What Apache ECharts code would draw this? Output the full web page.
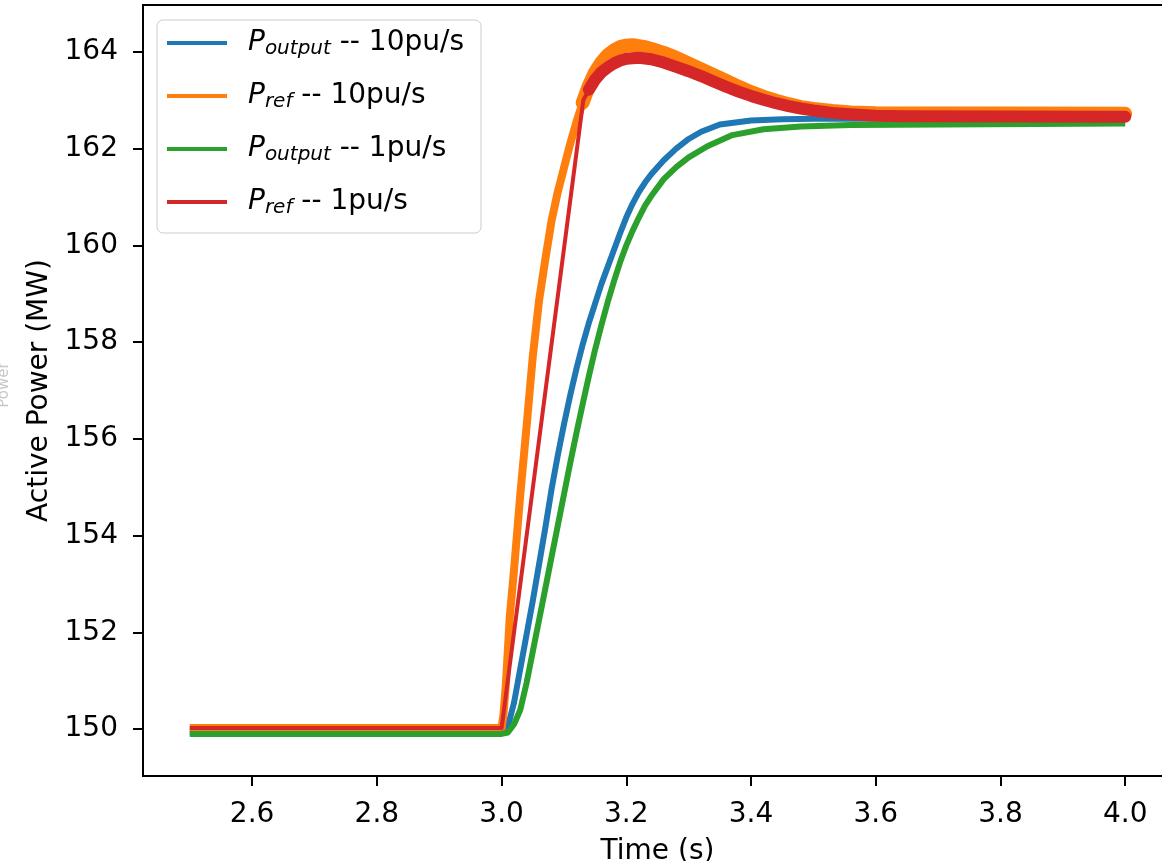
<!DOCTYPE html>
<html>
<head>
<meta charset="utf-8">
<script src="https://cdn.jsdelivr.net/npm/echarts@6.0.0/dist/echarts.min.js"></script>
<style>
  html, body { margin: 0; padding: 0; background: #fff; }
  #chart { width: 1162px; height: 861px; }
</style>
</head>
<body>
<div id="chart"></div>
<script>
// Active power step response: output and reference for two ramp rates.
const seriesNames = ['P_output -- 10pu/s', 'P_ref -- 10pu/s', 'P_output -- 1pu/s', 'P_ref -- 1pu/s'];
const seriesColors = ['#1f77b4', '#ff7f0e', '#2ca02c', '#d62728'];

const xTicks = [2.6, 2.8, 3.0, 3.2, 3.4, 3.6, 3.8, 4.0];
const yTicks = [150, 152, 154, 156, 158, 160, 162, 164];

// P_output -- 10pu/s
const timeOut10 = [2.5, 3.0, 3.01, 3.02, 3.03, 3.04, 3.05, 3.06, 3.07, 3.08, 3.09, 3.10, 3.11, 3.12, 3.13, 3.14, 3.15, 3.16, 3.17, 3.18, 3.19, 3.20, 3.21, 3.22, 3.23, 3.24, 3.26, 3.28, 3.30, 3.32, 3.35, 3.40, 3.45, 3.50, 4.0];
const powerOut10 = [149.93, 149.93, 150.05, 150.55, 151.25, 151.95, 152.65, 153.4, 154.15, 154.95, 155.65, 156.3, 156.9, 157.45, 157.95, 158.4, 158.8, 159.2, 159.55, 159.9, 160.25, 160.58, 160.86, 161.1, 161.3, 161.47, 161.76, 162.0, 162.2, 162.35, 162.5, 162.58, 162.61, 162.62, 162.62];

// P_ref -- 10pu/s
const timeRef10 = [2.5, 3.0, 3.003, 3.007, 3.013, 3.02, 3.03, 3.04, 3.05, 3.06, 3.07, 3.08, 3.09, 3.10, 3.11, 3.12, 3.13, 3.14, 3.15, 3.16, 3.17, 3.18, 3.19, 3.20, 3.21, 3.22, 3.23, 3.24, 3.26, 3.28, 3.30, 3.32, 3.34, 3.36, 3.38, 3.40, 3.42, 3.44, 3.46, 3.48, 3.50, 3.53, 3.56, 3.60, 4.0];
const powerRef10 = [150.02, 150.02, 150.3, 150.95, 152.3, 153.3, 154.85, 156.25, 157.7, 158.85, 159.7, 160.5, 161.1, 161.6, 162.1, 162.55, 162.95, 163.3, 163.58, 163.78, 163.93, 164.03, 164.1, 164.13, 164.14, 164.12, 164.1, 164.06, 163.98, 163.88, 163.76, 163.64, 163.52, 163.4, 163.28, 163.17, 163.07, 162.99, 162.92, 162.86, 162.82, 162.78, 162.75, 162.73, 162.72];

// P_output -- 1pu/s
const timeOut1 = [2.5, 3.0, 3.01, 3.02, 3.03, 3.04, 3.05, 3.06, 3.07, 3.08, 3.09, 3.10, 3.11, 3.12, 3.13, 3.14, 3.15, 3.16, 3.17, 3.18, 3.19, 3.20, 3.21, 3.22, 3.23, 3.24, 3.26, 3.28, 3.30, 3.33, 3.37, 3.42, 3.48, 3.56, 4.0];
const powerOut1 = [149.9, 149.9, 149.93, 150.1, 150.4, 150.95, 151.6, 152.25, 152.9, 153.55, 154.2, 154.85, 155.5, 156.12, 156.72, 157.3, 157.85, 158.35, 158.82, 159.25, 159.65, 160.0, 160.3, 160.57, 160.82, 161.02, 161.37, 161.62, 161.82, 162.05, 162.28, 162.4, 162.46, 162.49, 162.52];

// P_ref -- 1pu/s (linear ramp, then tracking)
const timeRef1 = [2.5, 3.0, 3.131, 3.14, 3.15, 3.16, 3.17, 3.18, 3.19, 3.20, 3.22, 3.24, 3.26, 3.28, 3.30, 3.32, 3.34, 3.36, 3.38, 3.40, 3.42, 3.44, 3.46, 3.48, 3.50, 3.53, 3.56, 3.60, 3.65, 4.0];
const powerRef1 = [150.02, 150.02, 163.0, 163.22, 163.43, 163.58, 163.68, 163.76, 163.82, 163.86, 163.88, 163.85, 163.78, 163.69, 163.6, 163.5, 163.39, 163.28, 163.18, 163.09, 163.01, 162.94, 162.88, 162.83, 162.79, 162.74, 162.71, 162.68, 162.67, 162.66];

const FONT = 'DejaVu Sans';
const FS = 28;

function pairs(t, p, fromTime) {
  const out = [];
  for (let i = 0; i < t.length; i++) {
    if (fromTime === undefined || t[i] >= fromTime) out.push([t[i], p[i]]);
  }
  return out;
}

// cap: 'butt' for the base traces, 'round' for the wide noise-band overlays
function lineSeries(idx, data, width, cap) {
  return {
    type: 'line',
    name: seriesNames[idx],
    data: data,
    showSymbol: false,
    symbol: 'none',
    smooth: false,
    color: seriesColors[idx],
    lineStyle: { color: seriesColors[idx], width: width, cap: cap || 'butt', join: 'round' },
    emphasis: { disabled: true },
    animation: false
  };
}

function legendLabel(name) {
  const m = name.match(/^P_(\w+)(.*)$/);
  return '{p|P}{s|' + m[1] + '}{t|' + m[2] + '}';
}

const chart = echarts.init(document.getElementById('chart'), null, { renderer: 'canvas' });

chart.setOption({
  backgroundColor: '#fff',
  animation: false,
  grid: {
    left: 143, top: 5, width: 1029, height: 771,
    show: true, borderColor: '#000', borderWidth: 2, backgroundColor: '#fff',
    containLabel: false, outerBoundsMode: 'none'
  },
  xAxis: {
    type: 'value', min: 2.425, max: 4.075,
    axisLine: { show: true, onZero: false, lineStyle: { color: '#000', width: 2 } },
    axisTick: { show: true, customValues: xTicks, length: 10, inside: false, lineStyle: { color: '#000', width: 2 } },
    axisLabel: { customValues: xTicks, formatter: v => v.toFixed(1), margin: 25, color: '#000', fontFamily: FONT, fontSize: FS },
    splitLine: { show: false },
    name: 'Time (s)', nameLocation: 'middle', nameGap: 62,
    nameTextStyle: { color: '#000', fontFamily: FONT, fontSize: FS }
  },
  yAxis: {
    type: 'value', min: 149.03, max: 164.97,
    axisLine: { show: true, onZero: false, lineStyle: { color: '#000', width: 2 } },
    axisTick: { show: true, customValues: yTicks, length: 10, inside: false, lineStyle: { color: '#000', width: 2 } },
    axisLabel: { customValues: yTicks, formatter: v => String(Math.round(v)), margin: 25, color: '#000', fontFamily: FONT, fontSize: FS },
    splitLine: { show: false },
    name: 'Active Power (MW)', nameLocation: 'middle', nameGap: 89,
    nameTextStyle: { color: '#000', fontFamily: FONT, fontSize: FS }
  },
  legend: {
    data: seriesNames,
    orient: 'vertical',
    left: 157, top: 20,
    padding: [9, 17, 15, 10],
    itemGap: 23,
    itemWidth: 60, itemHeight: 4,
    icon: 'rect',
    backgroundColor: 'rgba(255,255,255,0.8)',
    borderColor: '#cccccc', borderWidth: 1, borderRadius: 6,
    formatter: legendLabel,
    selectedMode: false,
    textStyle: {
      color: '#000', fontFamily: FONT, fontSize: FS,
      rich: {
        p: { fontFamily: FONT, fontSize: FS, fontStyle: 'italic', lineHeight: 32, padding: [0, 0, 0, 16], color: '#000' },
        s: { fontFamily: FONT, fontSize: 20, fontStyle: 'italic', lineHeight: 20, verticalAlign: 'bottom', color: '#000' },
        t: { fontFamily: FONT, fontSize: FS, lineHeight: 32, color: '#000' }
      }
    }
  },
  graphic: [{
    type: 'text', x: 4, y: 385, rotation: Math.PI / 2, silent: true,
    style: { text: 'Power', fill: '#c8c8c8', font: '15px "DejaVu Sans"', align: 'center', verticalAlign: 'middle' }
  }],
  series: [
    lineSeries(0, pairs(timeOut10, powerOut10), 6),
    lineSeries(1, pairs(timeRef10, powerRef10), 8),
    lineSeries(1, pairs(timeRef10, powerRef10, 3.13), 14, 'round'),
    lineSeries(2, pairs(timeOut1, powerOut1), 6),
    lineSeries(3, pairs(timeRef1, powerRef1), 4),
    lineSeries(3, pairs(timeRef1, powerRef1, 3.14), 12, 'round')
  ]
});
</script>
</body>
</html>
